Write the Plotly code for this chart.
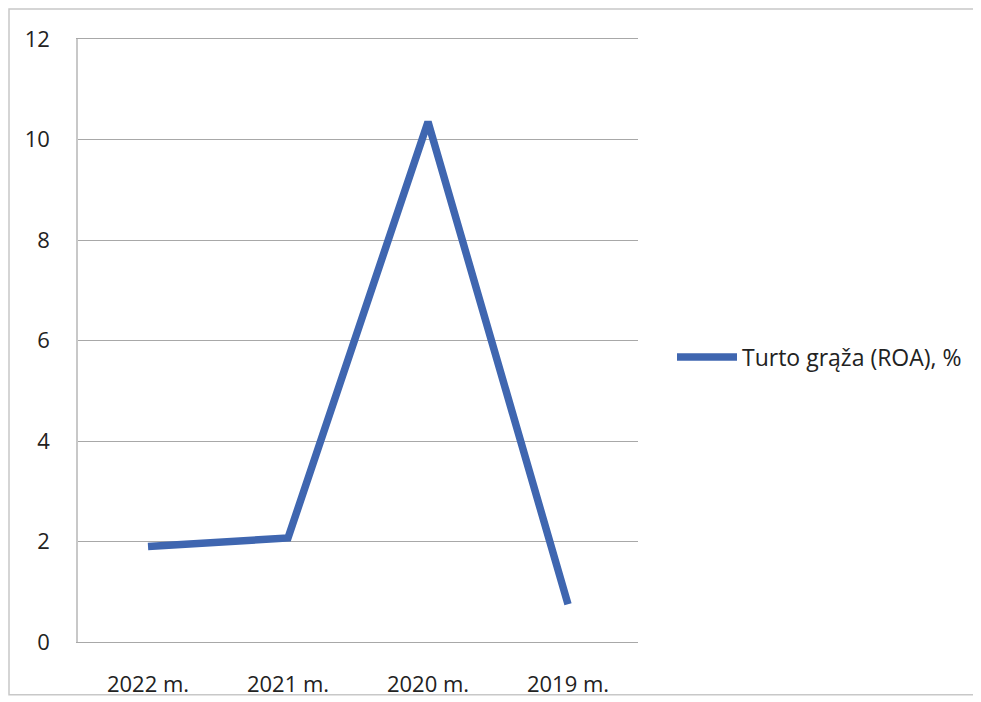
import plotly.graph_objects as go

categories = ["2022 m.", "2021 m.", "2020 m.", "2019 m."]
roa_values = [1.9, 2.07, 10.35, 0.75]
series_name = "Turto grąža (ROA), %"
y_ticks = [0, 2, 4, 6, 8, 10, 12]

W, H = 981, 702
OFF = 8  # page offset of the figure in the screenshot
L, R, T, B = 78 - OFF, 343 + OFF, 39 - OFF, 58 + OFF

fig = go.Figure()
fig.add_trace(go.Scatter(
    x=categories, y=roa_values, mode="lines", name=series_name,
    line=dict(color="#3F66B0", width=7.5),
    showlegend=True,
))

pw = W - L - R
ph = H - T - B

def px_x(p):
    return (p - OFF - L) / pw

def px_y(p):
    return (H - B - (p - OFF)) / ph

fig.update_layout(
    width=W, height=H,
    margin=dict(l=L, r=R, t=T, b=B),
    paper_bgcolor="white", plot_bgcolor="white",
    font=dict(family="Open Sans, Noto Sans, sans-serif", size=22, color="#222222"),
    xaxis=dict(range=[-0.5, 3.5], showgrid=False, showline=True, mirror=True,
               linecolor="#A8A8A8", linewidth=1.3, zeroline=False, ticks="",
               tickfont=dict(size=22)),
    yaxis=dict(range=[0, 12], tickvals=y_ticks, showgrid=True, gridcolor="#A8A8A8",
               gridwidth=1.3, zeroline=False, showline=True, linecolor="#C8C8C8",
               linewidth=1.5, ticks="", tickfont=dict(size=22)),
    legend=dict(x=px_x(672), y=px_y(358), xanchor="left", yanchor="middle",
                font=dict(size=23), bgcolor="rgba(0,0,0,0)", itemwidth=60),
    shapes=[
        dict(type="rect", xref="paper", yref="paper",
             x0=px_x(9), x1=px_x(976), y0=px_y(697), y1=px_y(9),
             line=dict(color="#C8C8C8", width=1.5), fillcolor="rgba(0,0,0,0)", layer="below"),
    ],
)
fig.update_xaxes(ticklabelstandoff=22)
fig.update_yaxes(ticklabelstandoff=22)

fig.write_html("out.html")
